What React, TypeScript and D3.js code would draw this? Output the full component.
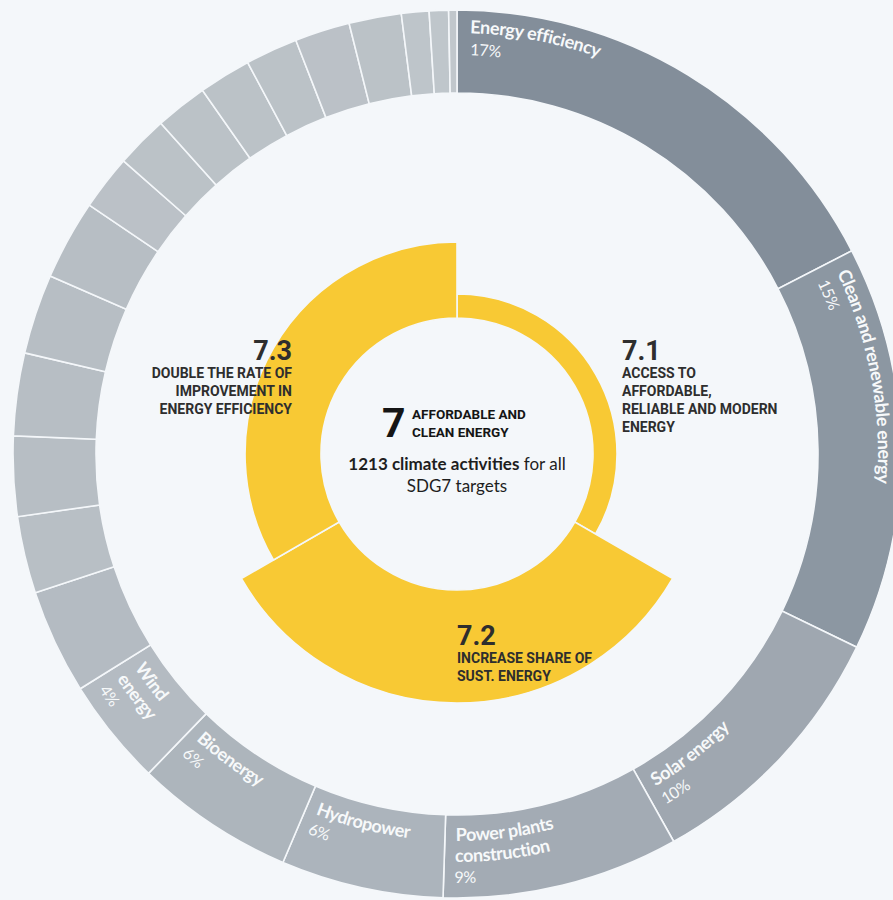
import * as d3 from "d3";

// outer ring: shares of climate activities by sector (%), clockwise from 12 o'clock
const sectorNames = [
  ["Energy efficiency"],
  ["Clean and renewable energy"],
  ["Solar energy"],
  ["Power plants", "construction"],
  ["Hydropower"],
  ["Bioenergy"],
  ["Wind", "energy"],
];
const sectorShares = [17.4, 14.7, 9.7, 8.6, 5.9, 5.8, 3.9];
const otherShares = [3.8, 2.8, 2.9, 3.0, 2.9, 2.9, 2.0, 1.9, 1.9, 1.9, 1.9, 2.0, 1.9, 1.0, 0.7, 0.3];

// inner ring: SDG7 targets, activities per target
const targetIds = ["7.1", "7.2", "7.3"];
const targetCounts = [112, 685, 416];
const targetTitles = [
  ["ACCESS TO", "AFFORDABLE,", "RELIABLE AND MODERN", "ENERGY"],
  ["INCREASE SHARE OF", "SUST. ENERGY"],
  ["DOUBLE THE RATE OF", "IMPROVEMENT IN", "ENERGY EFFICIENCY"],
];
const totalActivities = 1213;

const W = 893;
const H = 900;
const cx = 457;
const cy = 454;
const ringInner = 361;
const ringOuter = 444;
const coreR = 136;
const BG = "#f4f7fa";
const YELLOW = "#f8c934";

type Seg = { name: string[] | null; share: number };

const segs: Seg[] = [
  ...sectorShares.map((s, i) => ({ name: sectorNames[i], share: s })),
  ...otherShares.map(s => ({ name: null, share: s })),
];

const pie = d3
  .pie<Seg>()
  .sort(null)
  .value(d => d.share);

const ringArc = d3
  .arc<d3.PieArcDatum<Seg>>()
  .innerRadius(ringInner)
  .outerRadius(ringOuter);

const shade = d3
  .scaleLinear<string>()
  .domain([0, 17])
  .range(["#c2c8cd", "#848f9b"])
  .interpolate(d3.interpolateRgb);

// area of each target sector grows with its number of activities
const areaScale = d3
  .scaleLinear()
  .domain([0, totalActivities])
  .range([coreR * coreR, coreR * coreR + 77057]);

const targetPie = d3
  .pie<number>()
  .sort(null)
  .value(() => 1);

const pt = (a: number, r: number) => `${(r * Math.sin(a)).toFixed(2)},${(-r * Math.cos(a)).toFixed(2)}`;

function arcPath(a0: number, a1: number, r: number, clockwise: boolean) {
  return clockwise
    ? `M${pt(a0, r)} A${r},${r} 0 0 1 ${pt(a1, r)}`
    : `M${pt(a1, r)} A${r},${r} 0 0 0 ${pt(a0, r)}`;
}

const App = () => {
  const arcs = pie(segs);
  const tArcs = targetPie(targetCounts);

  const labels: JSX.Element[] = [];
  arcs.forEach((a, i) => {
    if (!a.data.name) return;
    const mid = (a.startAngle + a.endAngle) / 2;
    const top = mid < Math.PI / 2 + 0.05 || mid > (3 * Math.PI) / 2;
    const lines = [...a.data.name, `${Math.round(a.data.share)}%`];
    const radii = top ? [421, 399] : [387, 408, 429];
    lines.forEach((txt, j) => {
      const id = `lbl-${i}-${j}`;
      const r = radii[j];
      const isPct = j === lines.length - 1;
      labels.push(
        <g key={id}>
          <path id={id} d={arcPath(a.startAngle, a.endAngle, r, top)} fill="none" />
          <text
            fill="#f7f9fa"
            fontFamily="Lato, sans-serif"
            fontSize={isPct ? 16 : 18}
            fontWeight={isPct ? 400 : 700}
            letterSpacing={isPct ? -0.3 : -0.4}
          >
            <textPath href={`#${id}`} startOffset={top ? 13 : 11}>
              {txt}
            </textPath>
          </text>
        </g>
      );
    });
  });

  const targetLabel = (k: number, x: number, y: number, anchor: "start" | "end") => (
    <g key={targetIds[k]} fontFamily="Roboto, sans-serif" fontWeight={700} textAnchor={anchor} fill="#2e2e2e">
      <text x={x} y={y} fontSize={27}>
        {targetIds[k]}
      </text>
      {targetTitles[k].map((t, j) => (
        <text key={t} x={x} y={y + 18 + j * 18} fontSize={14}>
          {t}
        </text>
      ))}
    </g>
  );

  return (
    <svg width={W} height={H} style={{ position: "absolute", left: 0, top: 0, background: BG }}>
      <rect width={W} height={H} fill={BG} />
      <g transform={`translate(${cx},${cy})`}>
        {arcs.map((a, i) => (
          <path
            key={`seg-${i}`}
            d={ringArc(a) as string}
            fill={shade(a.data.share)}
            stroke={BG}
            strokeWidth={1.6}
          />
        ))}
        {labels}
        {tArcs.map((a, i) => (
          <path
            key={`t-${i}`}
            d={
              d3
                .arc<d3.PieArcDatum<number>>()
                .innerRadius(coreR)
                .outerRadius(Math.sqrt(areaScale(a.data)))(a) as string
            }
            fill={YELLOW}
            stroke={BG}
            strokeWidth={1.6}
          />
        ))}
      </g>
      {targetLabel(0, cx + 165, 360, "start")}
      {targetLabel(1, cx, 645, "start")}
      {targetLabel(2, cx - 165, 360, "end")}
      <g fontFamily="Roboto, sans-serif" fontWeight={700} fill="#151515">
        <text x={cx - 75} y={437} fontSize={41}>
          7
        </text>
        <text x={cx - 45} y={419} fontSize={13.5}>
          AFFORDABLE AND
        </text>
        <text x={cx - 45} y={437} fontSize={13.5}>
          CLEAN ENERGY
        </text>
      </g>
      <g fontFamily="Lato, sans-serif" fontSize={17} textAnchor="middle" fill="#1e1e1e">
        <text x={cx} y={470}>
          <tspan fontWeight={700}>{totalActivities} climate activities</tspan> for all
        </text>
        <text x={cx} y={492}>
          SDG7 targets
        </text>
      </g>
    </svg>
  );
};

export default App;
